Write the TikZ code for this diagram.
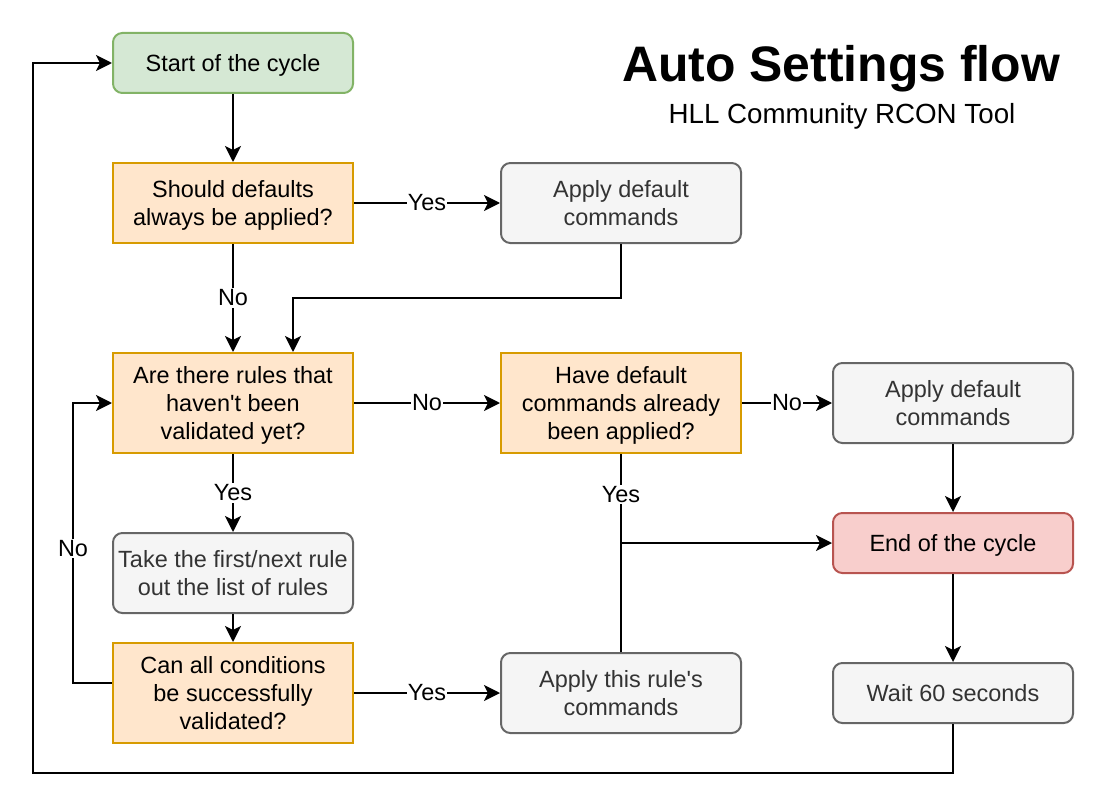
\documentclass[tikz,border=0pt]{standalone}
\usepackage{fontspec}
\setmainfont{Liberation Sans}[Ligatures=TeXOff]
\usetikzlibrary{arrows.meta}

\definecolor{greenfill}{HTML}{D5E8D4}
\definecolor{greenline}{HTML}{82B366}
\definecolor{orangefill}{HTML}{FFE6CC}
\definecolor{orangeline}{HTML}{D79B00}
\definecolor{grayfill}{HTML}{F5F5F5}
\definecolor{grayline}{HTML}{666666}
\definecolor{graytext}{HTML}{333333}
\definecolor{redfill}{HTML}{F8CECC}
\definecolor{redline}{HTML}{B85450}

\newcommand{\nodrop}[1]{\raisebox{0pt}[\height][0pt]{#1}}

\tikzset{
  box/.style={draw, line width=1.5pt, minimum width=180pt, inner sep=2pt, align=center, font=\fontsize{17.6}{21}\selectfont},
  startbox/.style={box, rounded corners=7pt, fill=greenfill, draw=greenline, minimum height=45pt},
  endbox/.style={box, rounded corners=7pt, fill=redfill, draw=redline, minimum height=45pt},
  ask/.style={box, fill=orangefill, draw=orangeline},
  task/.style={box, rounded corners=7pt, fill=grayfill, draw=grayline, text=graytext},
  flow/.style={line width=1.5pt, -{Stealth[length=12pt, width=12pt, inset=3pt]}},
  answer/.style={fill=white, inner sep=1pt, font=\fontsize{17.6}{21}\selectfont}
}

\begin{document}
\begin{tikzpicture}[x=0.75pt, y=-0.75pt]
\useasboundingbox (0,0) rectangle (1111,799);
\node [font=\fontsize{37.4}{44}\selectfont\bfseries, anchor=base] (title) at (841,82) {Auto Settings flow};
\node [font=\fontsize{20.8}{25}\selectfont, anchor=base] (subtitle) at (842,123) {HLL Community RCON Tool};
\node [startbox] (start) at (233,63) {\nodrop{Start of the cycle}};
\node [ask, minimum height=60pt] (always) at (233,203) {Should defaults\\\nodrop{always be applied?}};
\node [task, minimum height=60pt] (apply1) at (621,203) {Apply default\\commands};
\node [ask, minimum height=75pt] (rules) at (233,403) {Are there rules that\\haven't been\\\nodrop{validated yet?}};
\node [ask, minimum height=75pt] (applied) at (621,403) {Have default\\commands already\\\nodrop{been applied?}};
\node [task, minimum height=60pt] (apply2) at (953,403) {Apply default\\commands};
\node [task, minimum height=60pt] (next) at (233,573) {Take the first/next rule\\out the list of rules};
\node [endbox] (end) at (953,543) {\nodrop{End of the cycle}};
\node [ask, minimum height=75pt] (check) at (233,693) {Can all conditions\\be successfully\\validated?};
\node [task, minimum height=60pt] (apply3) at (621,693) {Apply this rule's\\commands};
\node [task, minimum height=45pt] (wait) at (953,693) {Wait 60 seconds};
\coordinate (bend) at (293,298);
\coordinate (loop) at (73,683);
\coordinate (join) at (621,543);
\coordinate (back) at (33,773);
\draw [flow] (start) -- (always);
\draw [flow] (always) -- node [answer] {Yes} (apply1);
\draw [flow] (always) -- node [answer] {No} (rules);
\draw [flow] (apply1.south) |- (bend) -- (bend |- rules.north);
\draw [flow] (rules) -- node [answer] {No} (applied);
\draw [flow] (applied) -- node [answer] {No} (apply2);
\draw [flow] (apply2) -- (end);
\draw [flow] (rules) -- node [answer] {Yes} (next);
\draw [flow] (next) -- (check);
\draw [flow] ([yshift=7.5pt]check.west) -- (loop) |- node [answer, pos=0.24] {No} (rules.west);
\draw [flow] (check) -- node [answer] {Yes} (apply3);
\draw [flow] (applied) -- node [answer, pos=0.45] {Yes} (join) -- (end);
\draw [line width=1.5pt] (apply3) -- (join);
\draw [flow] (end) -- (wait);
\draw [flow] (wait.south) |- (back) |- (start.west);
\end{tikzpicture}
\end{document}
